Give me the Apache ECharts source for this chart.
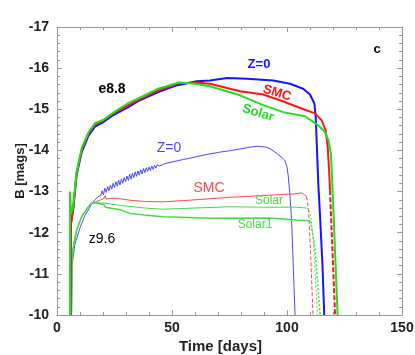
<!DOCTYPE html>
<html>
<head>
<meta charset="utf-8">
<script src="https://cdn.jsdelivr.net/npm/echarts@6.0.0/dist/echarts.min.js"></script>
<style>
  html, body { margin: 0; padding: 0; background: #fff; }
  #chart { width: 415px; height: 355px; }
</style>
</head>
<body>
<div id="chart"></div>
<script>
// x ticks and y ticks
var xTicks = [0, 50, 100, 150];
var yTicks = [-17, -16, -15, -14, -13, -12, -11, -10];

// e8.8 models (thick lines), [day, B mag]
var z0Thick = [[5.8,-10],[6.0,-12.2],[7.1,-12.6],[8.5,-13.4],[10.7,-13.95],[13.6,-14.35],[16.5,-14.58],[20,-14.68],
  [24.5,-14.86],[31,-15.05],[36,-15.22],[44,-15.42],[52,-15.58],[60.7,-15.68],[66.5,-15.7],[74,-15.76],[82.5,-15.74],
  [94,-15.7],[101.3,-15.62],[107,-15.5],[110,-15.36],[111.9,-15.14],[112.5,-14.81],[113.6,-13.2],[114.3,-12.47],
  [115.4,-11.25],[116.2,-10]];
var smcThick = [[5.8,-10],[6.0,-12.2],[7.1,-12.62],[8.5,-13.44],[10.7,-14.0],[13.6,-14.4],[16.5,-14.63],[20,-14.72],
  [24.5,-14.9],[31,-15.1],[36,-15.25],[44,-15.46],[53,-15.63],[60,-15.65],[66.5,-15.62],[79.6,-15.44],[89.6,-15.36],
  [97,-15.22],[107.8,-14.99],[112.2,-14.9],[115.1,-14.73],[116.8,-14.49],[117.7,-14.08],[118.3,-13.52],[118.7,-13.03]];
var smcThickFall = [[118.7,-13.03],[120.9,-10]];
var solarThick = [[5.65,-10],[5.65,-13.0],[6.1,-12.45],[7.1,-12.7],[8.5,-13.47],[10.7,-14.05],[13.6,-14.43],[16.5,-14.66],
  [20,-14.74],[24.5,-14.92],[31,-15.15],[36,-15.28],[44,-15.5],[53,-15.65],[60,-15.62],[66.5,-15.56],[79.6,-15.34],
  [89.7,-15.1],[98.4,-14.93],[104.2,-14.87],[107.8,-14.83],[113.6,-14.61],[116.5,-14.45],[118,-14.25],[119.1,-13.92],
  [119.7,-13.2],[122,-10]];

// z9.6 models (thin lines)
var z0Thin = [[6.3,-10],[6.5,-11.2],[7.8,-11.72],[10,-12.12],[12.2,-12.42],[14.3,-12.62],[15.1,-12.72],[16.5,-12.8],
  [18,-12.88],[19,-12.9],[19.6,-13.02],[20.2,-12.92],[20.8,-13.08],[21.4,-12.98],[22,-13.12],[22.6,-13.02],[23.2,-13.16],
  [23.8,-13.06],[24.4,-13.2],[25,-13.1],[25.6,-13.24],[26.2,-13.13],[26.8,-13.28],[27.4,-13.16],[28,-13.31],[28.6,-13.2],
  [29.2,-13.34],[29.8,-13.24],[30.4,-13.38],[31,-13.27],[31.6,-13.42],[32.2,-13.3],[32.8,-13.45],[33.4,-13.34],[34,-13.48],
  [34.6,-13.37],[35.2,-13.5],[35.8,-13.4],[36.4,-13.53],[37,-13.43],[37.6,-13.56],[38.2,-13.46],[38.8,-13.58],[39.4,-13.49],
  [40,-13.6],[40.6,-13.51],[41.2,-13.62],[41.8,-13.54],[42.4,-13.64],[43,-13.57],[43.6,-13.65],[44.5,-13.62],[47,-13.68],
  [50,-13.72],[55,-13.78],[60,-13.84],[65,-13.9],[71,-13.96],[76,-14.0],[80,-14.04],[84,-14.08],[87,-14.1],[91,-14.08],
  [93,-14.03],[95.5,-13.93],[97.5,-13.84],[99,-13.76],[100,-13.6],[100.5,-13.4],[101.3,-12.9],[102,-12.3],[103.5,-10]];
var smcThin = [[6.3,-10],[6.5,-11.3],[7.1,-11.62],[8.5,-12.04],[10.7,-12.38],[13.6,-12.62],[15.1,-12.72],[17.2,-12.76],
  [19,-12.8],[20.5,-12.84],[21,-12.9],[21.3,-12.82],[24.5,-12.84],[28,-12.82],[31.7,-12.79],[38,-12.76],[46,-12.75],
  [55,-12.78],[65,-12.82],[75,-12.86],[85,-12.89],[95,-12.92],[102.6,-12.94],[106.4,-12.97],[108.5,-12.88]];
var smcThinFall = [[108.5,-12.88],[109.3,-12.6],[110.2,-11.6],[111.3,-10]];
var solarThin = [[6.3,-10],[6.5,-11.35],[7.1,-11.66],[8.5,-12.06],[10.7,-12.39],[13.6,-12.63],[15.1,-12.72],[17.2,-12.73],
  [20.5,-12.72],[21,-12.68],[28,-12.66],[38.3,-12.6],[46,-12.57],[60,-12.6],[75,-12.63],[90,-12.62],[104,-12.62],
  [108.6,-12.6],[109.5,-12.55]];
var solarThinFall = [[109.5,-12.55],[110.4,-12.39],[111.5,-11.8],[113.2,-10]];
var solar1Thin = [[6.3,-10],[6.5,-11.35],[7.1,-11.66],[8.5,-12.06],[10.7,-12.39],[13.6,-12.63],[15.1,-12.72],[17.2,-12.72],
  [20.5,-12.68],[21,-12.62],[28,-12.55],[31.7,-12.47],[38,-12.43],[46,-12.39],[68,-12.35],[92.6,-12.36],[104,-12.31],
  [110,-12.29]];
var solar1ThinFall = [[110,-12.29],[111.1,-12.0],[112.2,-11.6],[114.4,-10]];

var BLUE = '#1414ff', RED = '#ff1414', GREEN = '#22dd22';
var BLUE_T = '#4848ff', RED_T = '#ff4a4a', GREEN_T = '#44dd44';

var chart = echarts.init(document.getElementById('chart'));

function line(data, color, width, type) {
  return {
    type: 'line', data: data, showSymbol: false, symbol: 'none', silent: true,
    xAxisIndex: 0, yAxisIndex: 0, z: width > 1.5 ? 3 : 2,
    lineStyle: { color: color, width: width, type: type || 'solid' }
  };
}

var axisColor = '#999';
var labelFont = { color: '#222', fontFamily: 'Liberation Sans', fontWeight: 'bold', fontSize: 14 };

function xAx(pos, showLabel) {
  return {
    type: 'value', position: pos, min: xTicks[0], max: xTicks[xTicks.length - 1], interval: 50,
    axisLine: { show: true, onZero: false, lineStyle: { color: axisColor, width: 1 } },
    axisTick: { show: true, inside: true, length: 5, lineStyle: { color: axisColor } },
    minorTick: { show: true, splitNumber: 5, length: 3, lineStyle: { color: axisColor } },
    splitLine: { show: false },
    axisLabel: Object.assign({ show: showLabel, margin: 6 }, labelFont),
    name: showLabel ? 'Time [days]' : '', nameLocation: 'middle', nameGap: 24, nameMoveOverlap: false,
    nameTextStyle: { color: '#222', fontFamily: 'Liberation Sans', fontWeight: 'bold', fontSize: 15,
      padding: [0, 18, 0, 0] }
  };
}
function yAx(pos, showLabel) {
  return {
    type: 'value', position: pos, min: yTicks[0], max: yTicks[yTicks.length - 1], interval: 1, inverse: true,
    axisLine: { show: true, onZero: false, lineStyle: { color: axisColor, width: 1 } },
    axisTick: { show: true, inside: true, length: 5, lineStyle: { color: axisColor } },
    minorTick: { show: true, splitNumber: 5, length: 3, lineStyle: { color: axisColor } },
    splitLine: { show: false },
    axisLabel: Object.assign({ show: showLabel, margin: 8 }, labelFont),
    name: showLabel ? 'B [mags]' : '', nameLocation: 'middle', nameGap: 30, nameRotate: 90, nameMoveOverlap: false,
    nameTextStyle: { color: '#222', fontFamily: 'Liberation Sans', fontWeight: 'bold', fontSize: 13 }
  };
}

function txt(x, y, s, color, size, bold, rot) {
  return {
    type: 'text', x: x, y: y, rotation: rot || 0, silent: true, z: 10,
    style: { text: s, fill: color, fontFamily: 'Liberation Sans', fontSize: size,
      fontWeight: bold ? 'bold' : 'normal', align: 'center', verticalAlign: 'middle' }
  };
}

chart.setOption({
  animation: false,
  backgroundColor: '#fff',
  grid: { left: 57, right: 13, top: 27, bottom: 40, containLabel: false, outerBoundsMode: 'none' },
  xAxis: [xAx('bottom', true), xAx('top', false)],
  yAxis: [yAx('left', true), yAx('right', false)],
  series: [
    line(z0Thin, BLUE_T, 1),
    line(smcThin, RED_T, 1),
    line(smcThinFall, RED_T, 1, [4, 2]),
    line(solarThin, GREEN_T, 1),
    line(solarThinFall, GREEN_T, 1, [2, 2]),
    line(solar1Thin, GREEN_T, 1.5),
    line(solar1ThinFall, GREEN_T, 1.5, [2, 2]),
    line(z0Thick, BLUE, 2),
    line(smcThick, RED, 2),
    line(smcThickFall, RED, 2, [5, 2]),
    line(solarThick, GREEN, 2)
  ],
  graphic: [
    txt(377, 49, 'c', '#000', 13, true),
    txt(259, 64, 'Z=0', BLUE, 13, true),
    txt(277, 93, 'SMC', RED, 13, true, -0.3),
    txt(258, 113, 'Solar', GREEN, 13, true, -0.3),
    txt(112, 89, 'e8.8', '#000', 14, true),
    txt(169, 148, 'Z=0', BLUE_T, 14, false),
    txt(209, 188, 'SMC', RED_T, 14, false),
    txt(269, 201, 'Solar', GREEN_T, 12, false),
    txt(255, 225, 'Solar1', GREEN_T, 12, false),
    txt(102, 239, 'z9.6', '#000', 14, false)
  ]
});
</script>
</body>
</html>
